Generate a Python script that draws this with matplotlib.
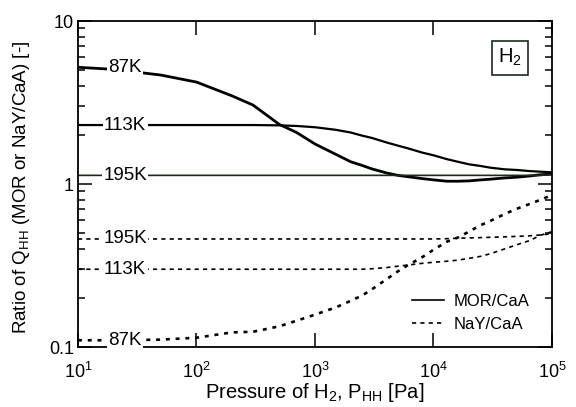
import matplotlib
matplotlib.use("Agg")
import matplotlib.pyplot as plt
from matplotlib.ticker import FixedLocator, FixedFormatter, LogLocator, NullLocator

plt.rcParams['font.family'] = ['Liberation Sans', 'DejaVu Sans']
plt.rcParams['mathtext.default'] = 'regular'

# pressure grid [Pa]
pressure = [10, 20, 50, 100, 200, 300, 500, 700, 1000, 1500, 2000, 2500, 3000, 4000,
            5000, 6000, 8000, 10000, 13000, 16000, 20000, 25000, 30000, 40000, 50000,
            65000, 80000, 100000]

# MOR/CaA ratio
mor_87 = [5.2, 5.05, 4.66, 4.22, 3.47, 3.05, 2.32, 2.07, 1.76, 1.52, 1.37, 1.30, 1.24, 1.17,
          1.13, 1.11, 1.08, 1.06, 1.04, 1.04, 1.045, 1.06, 1.07, 1.09, 1.10, 1.12, 1.14, 1.15]
mor_113 = [2.30, 2.30, 2.30, 2.30, 2.30, 2.30, 2.29, 2.27, 2.23, 2.15, 2.07, 1.98, 1.92, 1.80,
           1.72, 1.66, 1.56, 1.50, 1.42, 1.37, 1.32, 1.29, 1.26, 1.23, 1.22, 1.20, 1.19, 1.18]
mor_195 = [1.13] * 27 + [1.14]

# NaY/CaA ratio
nay_87 = [0.110, 0.110, 0.111, 0.114, 0.123, 0.124, 0.134, 0.145, 0.158, 0.175, 0.192, 0.207,
          0.225, 0.260, 0.291, 0.316, 0.355, 0.395, 0.443, 0.469, 0.511, 0.559, 0.592, 0.655,
          0.703, 0.755, 0.800, 0.857]
nay_113 = [0.300] * 12 + [0.302, 0.307, 0.313, 0.318, 0.326, 0.331, 0.336, 0.341, 0.350, 0.360,
                          0.373, 0.400, 0.423, 0.450, 0.485, 0.510]
nay_195 = [0.460] * 18 + [0.462, 0.465, 0.467, 0.469, 0.471, 0.474, 0.477, 0.481, 0.487, 0.495]

temps = ['87K', '113K', '195K']

fig = plt.figure(figsize=(5.76, 4.07), dpi=100)
ax = fig.add_axes([0.1354, 0.1474, 0.8229, 0.801])

ax.plot(pressure, mor_87, color='black', lw=2.0)
ax.plot(pressure, mor_113, color='black', lw=1.6)
ax.plot(pressure, mor_195, color='#1c2a1c', lw=1.2)
ax.plot(pressure, nay_87, color='black', lw=1.9, ls=(0, (1.5, 2.2)))
ax.plot(pressure, nay_113, color='black', lw=1.2, ls=(0, (2.5, 2.5)))
ax.plot(pressure, nay_195, color='black', lw=1.2, ls=(0, (2.5, 2.5)))

# temperature labels sitting on the lines
for t, y in zip(temps, [mor_87[0], mor_113[0], mor_195[0]]):
    ax.text(25, y, t, fontsize=13.5, ha='center', va='center',
            bbox=dict(facecolor='white', edgecolor='none', pad=1.0))
for t, y in zip(temps, [nay_87[0], nay_113[0], nay_195[0]]):
    ax.text(25, y, t, fontsize=13.5, ha='center', va='center',
            bbox=dict(facecolor='white', edgecolor='none', pad=1.0))

ax.set_xscale('log')
ax.set_yscale('log')
ax.set_xlim(10, 1e5)
ax.set_ylim(0.1, 10)

ax.xaxis.set_major_locator(FixedLocator([10, 100, 1000, 10000, 100000]))
ax.xaxis.set_major_formatter(FixedFormatter(['$10^1$', '$10^2$', '$10^3$', '$10^4$', '$10^5$']))
ax.xaxis.set_minor_locator(NullLocator())
ax.yaxis.set_major_locator(FixedLocator([0.1, 1, 10]))
ax.yaxis.set_major_formatter(FixedFormatter(['0.1', '1', '10']))
ax.yaxis.set_minor_locator(LogLocator(base=10, subs=range(2, 10)))

ax.tick_params(which='both', direction='in', top=True, right=True, labelsize=13, width=1.1)
ax.tick_params(which='major', length=10)
ax.tick_params(which='minor', length=5)
ax.tick_params(axis='x', which='major', pad=10.5)
ax.tick_params(axis='y', which='major', pad=3)
for s in ax.spines.values():
    s.set_linewidth(1.3)

ax.set_xlabel('Pressure of H$_2$, P$_{HH}$ [Pa]', fontsize=14.5, va='top')
ax.set_ylabel('Ratio of Q$_{HH}$ (MOR or NaY/CaA) [-]', fontsize=13.5, va='center')
ax.xaxis.set_label_coords(0.5, -0.104)
ax.yaxis.set_label_coords(-0.12, 0.49)

ax.text(0.911, 0.887, 'H$_2$', transform=ax.transAxes, fontsize=14.5, ha='center', va='center',
        bbox=dict(facecolor='white', edgecolor='#1c2a1c', lw=1.2, boxstyle='square,pad=0.3'))

ax.plot([], [], color='black', lw=1.2, label='MOR/CaA')
ax.plot([], [], color='black', lw=1.2, ls=(0, (2.5, 2.5)), label='NaY/CaA')
h, l = ax.get_legend_handles_labels()
ax.legend(h[-2:], l[-2:], loc='lower right', frameon=False, fontsize=12,
          handlelength=1.9, handletextpad=0.6, labelspacing=0.5,
          bbox_to_anchor=(0.985, 0.0))

fig.savefig('out.png', dpi=100)
